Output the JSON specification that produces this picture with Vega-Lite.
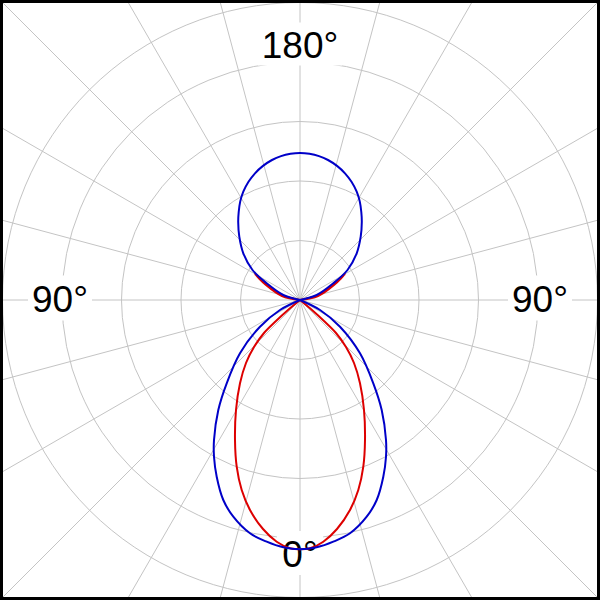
{
  "$schema": "https://vega.github.io/schema/vega-lite/v6.json",
  "width": 600,
  "height": 600,
  "autosize": {"type": "fit", "contains": "padding"},
  "padding": 0,
  "background": "white",
  "config": {"view": {"stroke": null}},
  "datasets": {
    "spokes": [
      {"x1": 0, "y1": 430, "x2": 0, "y2": -430},
      {"x1": 111.3, "y1": 415.3, "x2": -111.3, "y2": -415.3},
      {"x1": 215, "y1": 372.4, "x2": -215, "y2": -372.4},
      {"x1": 304.1, "y1": 304.1, "x2": -304.1, "y2": -304.1},
      {"x1": 372.4, "y1": 215, "x2": -372.4, "y2": -215},
      {"x1": 415.3, "y1": 111.3, "x2": -415.3, "y2": -111.3},
      {"x1": 430, "y1": 0, "x2": -430, "y2": 0},
      {"x1": 415.3, "y1": -111.3, "x2": -415.3, "y2": 111.3},
      {"x1": 372.4, "y1": -215, "x2": -372.4, "y2": 215},
      {"x1": 304.1, "y1": -304.1, "x2": -304.1, "y2": 304.1},
      {"x1": 215, "y1": -372.4, "x2": -215, "y2": 372.4},
      {"x1": 111.3, "y1": -415.3, "x2": -111.3, "y2": 415.3}
    ],
    "rings": [{"r": 59.5}, {"r": 119}, {"r": 178.5}, {"r": 238}, {"r": 297.5}],
    "labels": [
      {"label": "180°", "x": 0, "y": 256, "k": "a"},
      {"label": "90°", "x": -240, "y": 2, "k": "b"},
      {"label": "90°", "x": 240, "y": 2, "k": "b"},
      {"label": "0°", "x": 0, "y": -253, "k": "c"}
    ],
    "curves": [
      {"s": "B", "seg": "B1", "i": 0, "x": 0, "y": 0},
      {"s": "B", "seg": "B1", "i": 1, "x": 20, "y": -10},
      {"s": "B", "seg": "B1", "i": 2, "x": 40, "y": -26.7},
      {"s": "B", "seg": "B1", "i": 3, "x": 60, "y": -53.3},
      {"s": "B", "seg": "B1", "i": 4, "x": 73.3, "y": -83.3},
      {"s": "B", "seg": "B1", "i": 5, "x": 81.7, "y": -110},
      {"s": "B", "seg": "B1", "i": 6, "x": 86, "y": -140},
      {"s": "B", "seg": "B1", "i": 7, "x": 86, "y": -156.7},
      {"s": "B", "seg": "B1", "i": 8, "x": 83.3, "y": -176.7},
      {"s": "B", "seg": "B1", "i": 9, "x": 76.7, "y": -200},
      {"s": "B", "seg": "B1", "i": 10, "x": 66.7, "y": -216.7},
      {"s": "B", "seg": "B1", "i": 11, "x": 50, "y": -233.3},
      {"s": "B", "seg": "B1", "i": 12, "x": 33.3, "y": -241.7},
      {"s": "B", "seg": "B1", "i": 13, "x": 16.7, "y": -247.3},
      {"s": "B", "seg": "B1", "i": 14, "x": 0, "y": -249.3},
      {"s": "B", "seg": "B1", "i": 15, "x": -16.7, "y": -247.3},
      {"s": "B", "seg": "B1", "i": 16, "x": -33.3, "y": -241.7},
      {"s": "B", "seg": "B1", "i": 17, "x": -50, "y": -233.3},
      {"s": "B", "seg": "B1", "i": 18, "x": -66.7, "y": -216.7},
      {"s": "B", "seg": "B1", "i": 19, "x": -76.7, "y": -200},
      {"s": "B", "seg": "B1", "i": 20, "x": -83.3, "y": -176.7},
      {"s": "B", "seg": "B1", "i": 21, "x": -86, "y": -156.7},
      {"s": "B", "seg": "B1", "i": 22, "x": -86, "y": -140},
      {"s": "B", "seg": "B1", "i": 23, "x": -81.7, "y": -110},
      {"s": "B", "seg": "B1", "i": 24, "x": -73.3, "y": -83.3},
      {"s": "B", "seg": "B1", "i": 25, "x": -60, "y": -53.3},
      {"s": "B", "seg": "B1", "i": 26, "x": -40, "y": -26.7},
      {"s": "B", "seg": "B1", "i": 27, "x": -20, "y": -10},
      {"s": "B", "seg": "B1", "i": 28, "x": 0, "y": 0},
      {"s": "B", "seg": "B2", "i": 0, "x": 0, "y": 0},
      {"s": "B", "seg": "B2", "i": 1, "x": 16.7, "y": 5},
      {"s": "B", "seg": "B2", "i": 2, "x": 33.3, "y": 16.7},
      {"s": "B", "seg": "B2", "i": 3, "x": 47.5, "y": 30},
      {"s": "B", "seg": "B2", "i": 4, "x": 56.7, "y": 46.7},
      {"s": "B", "seg": "B2", "i": 5, "x": 60.7, "y": 63.3},
      {"s": "B", "seg": "B2", "i": 6, "x": 61.8, "y": 78},
      {"s": "B", "seg": "B2", "i": 7, "x": 61.3, "y": 88},
      {"s": "B", "seg": "B2", "i": 8, "x": 59.8, "y": 98.4},
      {"s": "B", "seg": "B2", "i": 9, "x": 56.7, "y": 108.3},
      {"s": "B", "seg": "B2", "i": 10, "x": 51.5, "y": 118.2},
      {"s": "B", "seg": "B2", "i": 11, "x": 45, "y": 126.7},
      {"s": "B", "seg": "B2", "i": 12, "x": 37, "y": 134.1},
      {"s": "B", "seg": "B2", "i": 13, "x": 28, "y": 140},
      {"s": "B", "seg": "B2", "i": 14, "x": 19, "y": 143.9},
      {"s": "B", "seg": "B2", "i": 15, "x": 9.5, "y": 146.2},
      {"s": "B", "seg": "B2", "i": 16, "x": 0, "y": 147},
      {"s": "B", "seg": "B2", "i": 17, "x": -9.5, "y": 146.2},
      {"s": "B", "seg": "B2", "i": 18, "x": -19, "y": 143.9},
      {"s": "B", "seg": "B2", "i": 19, "x": -28, "y": 140},
      {"s": "B", "seg": "B2", "i": 20, "x": -37, "y": 134.1},
      {"s": "B", "seg": "B2", "i": 21, "x": -45, "y": 126.7},
      {"s": "B", "seg": "B2", "i": 22, "x": -51.5, "y": 118.2},
      {"s": "B", "seg": "B2", "i": 23, "x": -56.7, "y": 108.3},
      {"s": "B", "seg": "B2", "i": 24, "x": -59.8, "y": 98.4},
      {"s": "B", "seg": "B2", "i": 25, "x": -61.3, "y": 88},
      {"s": "B", "seg": "B2", "i": 26, "x": -61.8, "y": 78},
      {"s": "B", "seg": "B2", "i": 27, "x": -60.7, "y": 63.3},
      {"s": "B", "seg": "B2", "i": 28, "x": -56.7, "y": 46.7},
      {"s": "B", "seg": "B2", "i": 29, "x": -47.5, "y": 30},
      {"s": "B", "seg": "B2", "i": 30, "x": -33.3, "y": 16.7},
      {"s": "B", "seg": "B2", "i": 31, "x": -16.7, "y": 5},
      {"s": "B", "seg": "B2", "i": 32, "x": 0, "y": 0},
      {"s": "R", "seg": "R1", "i": 0, "x": 0, "y": 0},
      {"s": "R", "seg": "R1", "i": 1, "x": 12, "y": -10},
      {"s": "R", "seg": "R1", "i": 2, "x": 24, "y": -21},
      {"s": "R", "seg": "R1", "i": 3, "x": 36, "y": -33},
      {"s": "R", "seg": "R1", "i": 4, "x": 46, "y": -47},
      {"s": "R", "seg": "R1", "i": 5, "x": 54, "y": -63},
      {"s": "R", "seg": "R1", "i": 6, "x": 60, "y": -83.3},
      {"s": "R", "seg": "R1", "i": 7, "x": 64, "y": -110},
      {"s": "R", "seg": "R1", "i": 8, "x": 65, "y": -140},
      {"s": "R", "seg": "R1", "i": 9, "x": 63.3, "y": -166.7},
      {"s": "R", "seg": "R1", "i": 10, "x": 58.3, "y": -190},
      {"s": "R", "seg": "R1", "i": 11, "x": 50, "y": -210},
      {"s": "R", "seg": "R1", "i": 12, "x": 37, "y": -229},
      {"s": "R", "seg": "R1", "i": 13, "x": 23.3, "y": -241.7},
      {"s": "R", "seg": "R1", "i": 14, "x": 10, "y": -248.3},
      {"s": "R", "seg": "R1", "i": 15, "x": 0, "y": -249.3},
      {"s": "R", "seg": "R1", "i": 16, "x": -10, "y": -248.3},
      {"s": "R", "seg": "R1", "i": 17, "x": -23.3, "y": -241.7},
      {"s": "R", "seg": "R1", "i": 18, "x": -37, "y": -229},
      {"s": "R", "seg": "R1", "i": 19, "x": -50, "y": -210},
      {"s": "R", "seg": "R1", "i": 20, "x": -58.3, "y": -190},
      {"s": "R", "seg": "R1", "i": 21, "x": -63.3, "y": -166.7},
      {"s": "R", "seg": "R1", "i": 22, "x": -65, "y": -140},
      {"s": "R", "seg": "R1", "i": 23, "x": -64, "y": -110},
      {"s": "R", "seg": "R1", "i": 24, "x": -60, "y": -83.3},
      {"s": "R", "seg": "R1", "i": 25, "x": -54, "y": -63},
      {"s": "R", "seg": "R1", "i": 26, "x": -46, "y": -47},
      {"s": "R", "seg": "R1", "i": 27, "x": -36, "y": -33},
      {"s": "R", "seg": "R1", "i": 28, "x": -24, "y": -21},
      {"s": "R", "seg": "R1", "i": 29, "x": -12, "y": -10},
      {"s": "R", "seg": "R1", "i": 30, "x": 0, "y": 0},
      {"s": "R", "seg": "R2", "i": 0, "x": 0, "y": 0},
      {"s": "R", "seg": "R2", "i": 1, "x": -18, "y": 4},
      {"s": "R", "seg": "R2", "i": 2, "x": -34, "y": 15},
      {"s": "R", "seg": "R2", "i": 3, "x": -45, "y": 26},
      {"s": "R", "seg": "R2", "i": 4, "x": -35, "y": 17},
      {"s": "R", "seg": "R2", "i": 5, "x": -19, "y": 5},
      {"s": "R", "seg": "R2", "i": 6, "x": 0, "y": 0},
      {"s": "R", "seg": "R3", "i": 0, "x": 0, "y": 0},
      {"s": "R", "seg": "R3", "i": 1, "x": 18, "y": 4},
      {"s": "R", "seg": "R3", "i": 2, "x": 34, "y": 15},
      {"s": "R", "seg": "R3", "i": 3, "x": 45, "y": 26},
      {"s": "R", "seg": "R3", "i": 4, "x": 35, "y": 17},
      {"s": "R", "seg": "R3", "i": 5, "x": 19, "y": 5},
      {"s": "R", "seg": "R3", "i": 6, "x": 0, "y": 0}
    ]
  },
  "layer": [
    {
      "data": {"name": "spokes"},
      "mark": {"type": "rule", "color": "#c4c4c4", "strokeWidth": 1, "clip": true},
      "encoding": {
        "x": {"field": "x1", "type": "quantitative", "scale": {"domain": [-300, 300]}, "axis": null},
        "y": {"field": "y1", "type": "quantitative", "scale": {"domain": [-300, 300]}, "axis": null},
        "x2": {"field": "x2"},
        "y2": {"field": "y2"}
      }
    },
    {
      "data": {"name": "rings"},
      "mark": {"type": "arc", "filled": false, "stroke": "#c4c4c4", "strokeWidth": 1, "theta": 0, "theta2": 6.2832},
      "encoding": {
        "radius": {"field": "r", "type": "quantitative", "stack": null, "scale": {"type": "linear", "domain": [0, 300], "range": [0, 300]}}
      }
    },
    {
      "data": {"name": "labels"},
      "transform": [{"filter": "datum.k == 'a'"}],
      "mark": {"type": "point", "shape": "M-1,-0.512H1V0.512H-1Z", "size": 7056, "filled": true, "color": "white", "opacity": 1, "strokeWidth": 0},
      "encoding": {
        "x": {"field": "x", "type": "quantitative", "scale": {"domain": [-300, 300]}, "axis": null},
        "y": {"field": "y", "type": "quantitative", "scale": {"domain": [-300, 300]}, "axis": null}
      }
    },
    {
      "data": {"name": "labels"},
      "transform": [{"filter": "datum.k == 'b'"}],
      "mark": {"type": "point", "shape": "M-1,-0.703H1V0.703H-1Z", "size": 4096, "filled": true, "color": "white", "opacity": 1, "strokeWidth": 0},
      "encoding": {
        "x": {"field": "x", "type": "quantitative", "scale": {"domain": [-300, 300]}, "axis": null},
        "y": {"field": "y", "type": "quantitative", "scale": {"domain": [-300, 300]}, "axis": null}
      }
    },
    {
      "data": {"name": "labels"},
      "transform": [{"filter": "datum.k == 'c'"}],
      "mark": {"type": "point", "shape": "M-1,-0.96H1V0.96H-1Z", "size": 2116, "filled": true, "color": "white", "opacity": 1, "strokeWidth": 0},
      "encoding": {
        "x": {"field": "x", "type": "quantitative", "scale": {"domain": [-300, 300]}, "axis": null},
        "y": {"field": "y", "type": "quantitative", "scale": {"domain": [-300, 300]}, "axis": null}
      }
    },
    {
      "data": {"name": "labels"},
      "mark": {"type": "text", "font": "Liberation Sans", "fontSize": 37, "baseline": "middle", "align": "center", "dy": 3, "color": "black"},
      "encoding": {
        "x": {"field": "x", "type": "quantitative", "scale": {"domain": [-300, 300]}, "axis": null},
        "y": {"field": "y", "type": "quantitative", "scale": {"domain": [-300, 300]}, "axis": null},
        "text": {"field": "label"}
      }
    },
    {
      "data": {"name": "curves"},
      "transform": [{"filter": "datum.s == 'R'"}],
      "mark": {"type": "line", "color": "#dd0000", "strokeWidth": 2, "interpolate": "catmull-rom"},
      "encoding": {
        "x": {"field": "x", "type": "quantitative", "scale": {"domain": [-300, 300]}, "axis": null},
        "y": {"field": "y", "type": "quantitative", "scale": {"domain": [-300, 300]}, "axis": null},
        "detail": {"field": "seg"},
        "order": {"field": "i", "type": "quantitative"}
      }
    },
    {
      "data": {"name": "curves"},
      "transform": [{"filter": "datum.s == 'B'"}],
      "mark": {"type": "line", "color": "#0000c8", "strokeWidth": 2, "interpolate": "catmull-rom"},
      "encoding": {
        "x": {"field": "x", "type": "quantitative", "scale": {"domain": [-300, 300]}, "axis": null},
        "y": {"field": "y", "type": "quantitative", "scale": {"domain": [-300, 300]}, "axis": null},
        "detail": {"field": "seg"},
        "order": {"field": "i", "type": "quantitative"}
      }
    },
    {
      "data": {"values": [{}]},
      "mark": {"type": "rect", "filled": false, "stroke": "black", "strokeWidth": 6, "clip": true},
      "encoding": {
        "x": {"datum": -300, "type": "quantitative", "scale": {"domain": [-300, 300]}, "axis": null},
        "x2": {"datum": 300},
        "y": {"datum": -300, "type": "quantitative", "scale": {"domain": [-300, 300]}, "axis": null},
        "y2": {"datum": 300}
      }
    }
  ]
}
